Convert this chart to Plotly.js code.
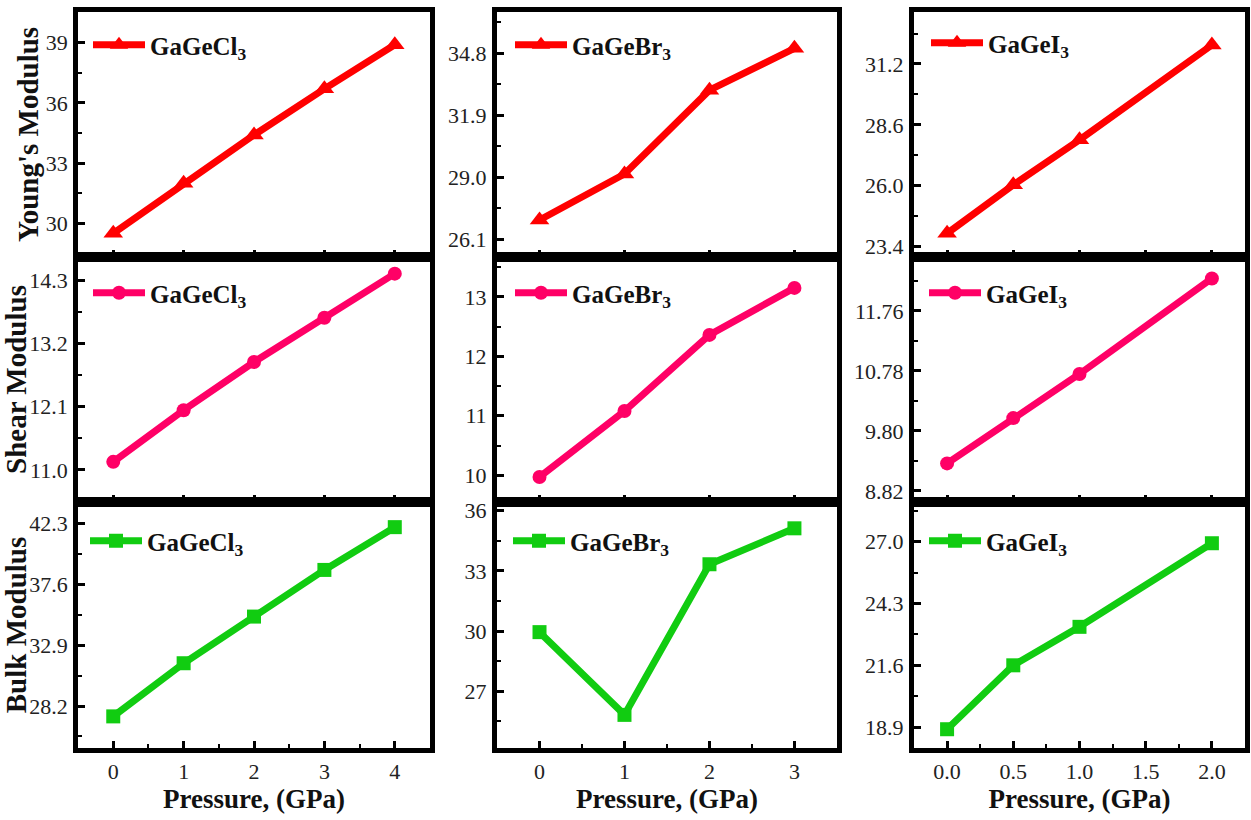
<!DOCTYPE html>
<html>
<head>
<meta charset="utf-8">
<script src="https://cdn.plot.ly/plotly-3.0.1.min.js"></script>
<style>html,body{margin:0;padding:0;background:#fff;}#chart{width:1251px;height:820px;}</style>
</head>
<body>
<div id="chart"></div>
<script>
// ---- data ----
const pressureCl = [0, 1, 2, 3, 4];
const pressureBr = [0, 1, 2, 3];
const pressureI  = [0, 0.5, 1, 2];

const youngCl = [29.5, 32.0, 34.4, 36.7, 38.9];
const shearCl = [11.14, 12.04, 12.88, 13.65, 14.42];
const bulkCl  = [27.4, 31.5, 35.1, 38.7, 42.0];

const youngBr = [27.0, 29.15, 33.07, 35.03];
const shearBr = [9.97, 11.08, 12.36, 13.15];
const bulkBr  = [29.95, 25.83, 33.33, 35.12];

const youngI = [23.97, 26.04, 27.96, 32.01];
const shearI = [9.27, 10.01, 10.73, 12.29];
const bulkI  = [18.81, 21.6, 23.28, 26.93];

const compounds = ['GaGeCl<sub>3</sub>', 'GaGeBr<sub>3</sub>', 'GaGeI<sub>3</sub>'];
const rowTitles = ["Young's Modulus", 'Shear Modulus', 'Bulk Modulus'];
const xTitle = 'Pressure, (GPa)';

const xTicksCl = [0, 1, 2, 3, 4];
const xTicksBr = [0, 1, 2, 3];
const xTicksI  = [0, 0.5, 1, 1.5, 2];
const xTickTextI = ['0.0', '0.5', '1.0', '1.5', '2.0'];

const yTicksYoungCl = [30, 33, 36, 39];
const yTicksShearCl = [11.0, 12.1, 13.2, 14.3];
const yTicksBulkCl  = [28.2, 32.9, 37.6, 42.3];
const yTicksYoungBr = [26.1, 29.0, 31.9, 34.8];
const yTicksShearBr = [10, 11, 12, 13];
const yTicksBulkBr  = [27, 30, 33, 36];
const yTicksYoungI  = [23.4, 26.0, 28.6, 31.2];
const yTicksShearI  = [8.82, 9.80, 10.78, 11.76];
const yTicksBulkI   = [18.9, 21.6, 24.3, 27.0];

// ---- layout helpers ----
const colX = [[0.0624, 0.3437], [0.3973, 0.6690], [0.7306, 0.9952]];
const rowY = [[0.6866, 0.9854], [0.3878, 0.6866], [0.0878, 0.3878]];
const xRanges = [[-0.5, 4.5], [-0.5, 3.5], [-0.25, 2.25]];
const xMinor = [0.5, 0.5, 0.25];
const rowColors = ['#ff0000', '#ff0066', '#11cc11'];
const rowSymbols = ['triangle-up', 'circle', 'square'];

const panels = [
  // row, col, x, y, yticks, decimals, yrange
  [0, 0, pressureCl, youngCl, yTicksYoungCl, 0, [28.32, 40.53]],
  [0, 1, pressureBr, youngBr, yTicksYoungBr, 1, [25.27, 36.73]],
  [0, 2, pressureI,  youngI,  yTicksYoungI,  1, [22.96, 33.42]],
  [1, 0, pressureCl, shearCl, yTicksShearCl, 1, [10.44, 14.71]],
  [1, 1, pressureBr, shearBr, yTicksShearBr, 0, [9.55, 13.67]],
  [1, 2, pressureI,  shearI,  yTicksShearI,  2, [8.64, 12.64]],
  [2, 0, pressureCl, bulkCl,  yTicksBulkCl,  1, [24.96, 43.94]],
  [2, 1, pressureBr, bulkBr,  yTicksBulkBr,  0, [24.18, 36.43]],
  [2, 2, pressureI,  bulkI,   yTicksBulkI,   1, [17.99, 28.73]]
];
const xTickSets = [[xTicksCl, xTicksCl.map(String)], [xTicksBr, xTicksBr.map(String)], [xTicksI, xTickTextI]];

const serif = '"Liberation Serif", "Times New Roman", serif';
const traces = [];
const layout = {
  width: 1251, height: 820,
  margin: {l: 0, r: 0, t: 0, b: 0},
  paper_bgcolor: '#fff', plot_bgcolor: '#fff',
  showlegend: true,
  font: {family: serif, color: '#111'}
};

// legend pixel positions (left px, top px)
const legendPos = [
  [[88, 22], [510, 22], [926, 20]],
  [[88, 270], [510, 270], [924, 270]],
  [[85, 518], [508, 518], [924, 518]]
];

panels.forEach((p, i) => {
  const [r, c, xs, ys, yt, dec, yr] = p;
  const n = i + 1;
  const xa = n === 1 ? 'x' : 'x' + n;
  const ya = n === 1 ? 'y' : 'y' + n;
  const lg = n === 1 ? 'legend' : 'legend' + n;
  traces.push({
    x: xs, y: ys, xaxis: xa, yaxis: ya, legend: lg,
    type: 'scatter', mode: 'lines+markers', name: compounds[c],
    line: {color: rowColors[r], width: 7},
    marker: {color: rowColors[r], symbol: rowSymbols[r], size: r === 0 ? 17 : 14}
  });
  const xk = n === 1 ? 'xaxis' : 'xaxis' + n;
  const yk = n === 1 ? 'yaxis' : 'yaxis' + n;
  const [tv, tt] = xTickSets[c];
  layout[xk] = {
    domain: colX[c], anchor: ya, range: xRanges[c],
    tickmode: 'array', tickvals: tv, ticktext: tt,
    showticklabels: r === 2,
    ticks: 'inside', ticklen: 7, tickwidth: 3, tickcolor: '#000',
    minor: {dtick: xMinor[c], tick0: 0, ticks: 'inside', ticklen: 4, tickwidth: 2, tickcolor: '#000'},
    showline: true, linewidth: 5, linecolor: '#000', mirror: true,
    showgrid: false, zeroline: false, fixedrange: true,
    tickfont: {family: serif, size: 22, color: '#222'},
    title: r === 2 ? {text: '<b>' + xTitle + '</b>', font: {family: serif, size: 27, color: '#111'}, standoff: 4} : undefined
  };
  const step = yt[1] - yt[0];
  layout[yk] = {
    domain: rowY[r], anchor: xa, range: yr,
    tickmode: 'array', tickvals: yt, ticktext: yt.map(v => v.toFixed(dec)),
    ticks: 'inside', ticklen: 7, tickwidth: 3, tickcolor: '#000',
    minor: {dtick: step / 2, tick0: yt[0], ticks: 'inside', ticklen: 4, tickwidth: 2, tickcolor: '#000'},
    showline: true, linewidth: 5, linecolor: '#000', mirror: true,
    showgrid: false, zeroline: false, fixedrange: true,
    tickfont: {family: serif, size: 22, color: '#222'},
    ticklabelstandoff: 1,
    title: c === 0 ? {text: '<b>' + rowTitles[r] + '</b>', font: {family: serif, size: 29, color: '#111'}, standoff: 0} : undefined
  };
  const [lx, ly] = legendPos[r][c];
  layout[lg] = {
    x: lx / 1251, y: 1 - ly / 820, xanchor: 'left', yanchor: 'top',
    xref: 'paper', yref: 'paper',
    bgcolor: 'rgba(0,0,0,0)', borderwidth: 0,
    itemwidth: 52, itemsizing: 'trace',
    font: {family: serif, size: 25, color: '#111', weight: 'bold'}
  };
});

Plotly.newPlot('chart', traces, layout, {displayModeBar: false, staticPlot: true});
</script>
</body>
</html>
